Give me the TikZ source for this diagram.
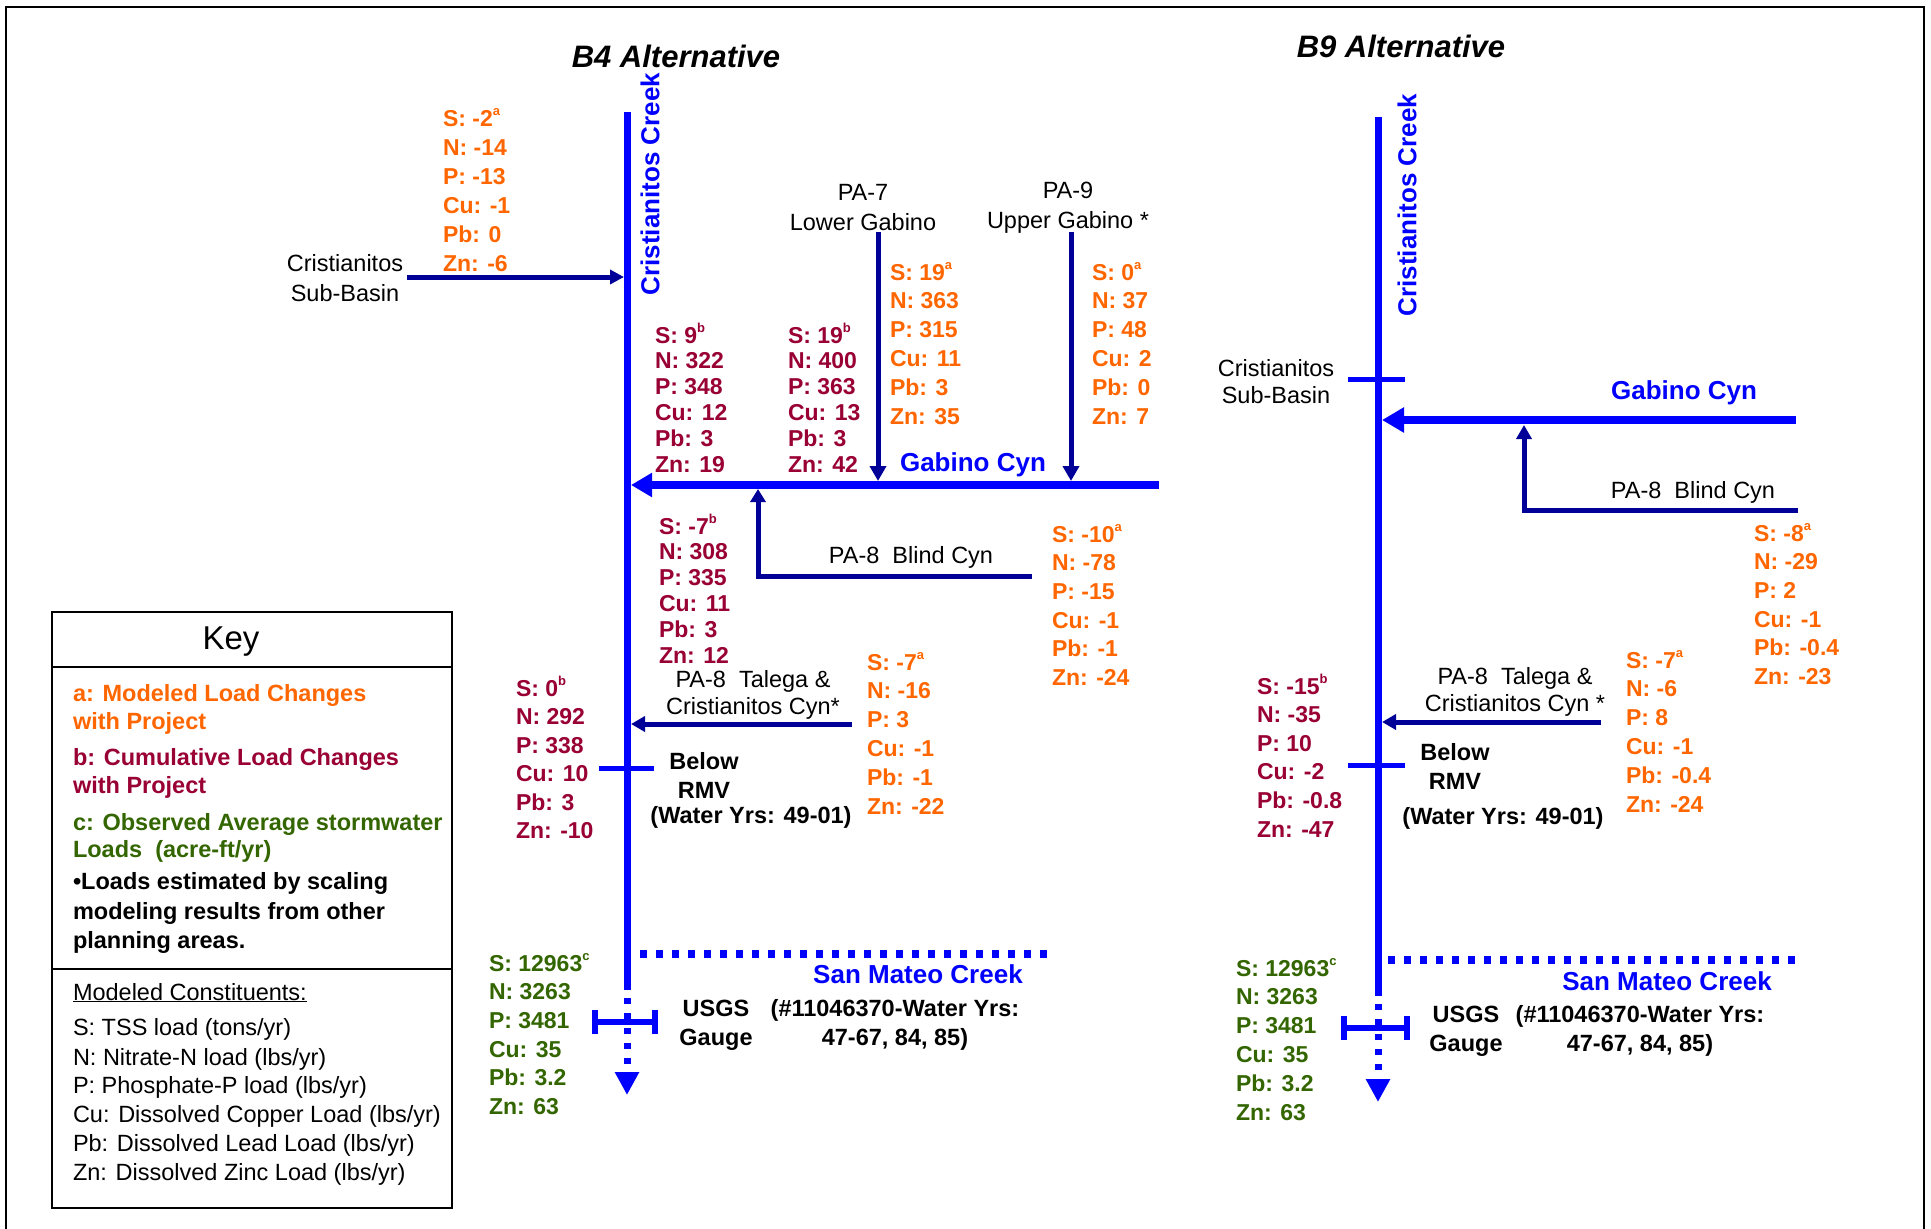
\documentclass[tikz,border=0pt]{standalone}
\usepackage{fontspec}
\setmainfont{Liberation Sans}
\usetikzlibrary{arrows.meta}
\definecolor{cblue}{RGB}{0,0,255}
\definecolor{cnavy}{RGB}{0,0,153}
\definecolor{corange}{RGB}{255,102,0}
\definecolor{cmaroon}{RGB}{153,0,51}
\definecolor{cgreen}{RGB}{51,102,0}
\newcommand\sps[1]{\raisebox{0.45em}{\fontsize{13}{13}\selectfont #1}}
\newcommand\loadlist[6]{%
  \foreach \t [count=\i from 0] in {#6}{%
    \node[val,text=#5] (#1-\i) at ({#2},{#3+8+\i*#4}) {\t};}}
\tikzset{
  every node/.style={inner sep=0pt, outer sep=0pt},
  val/.style={font=\fontsize{23}{23}\selectfont\bfseries, anchor=base west},
  reg/.style={font=\fontsize{23.5}{30}\selectfont, align=center},
  regt/.style={font=\fontsize{23.5}{27}\selectfont, align=center},
  blk/.style={font=\fontsize{23.5}{29}\selectfont\bfseries, align=center},
  keyb/.style={font=\fontsize{23.5}{23.5}\selectfont\bfseries, anchor=base west},
  keyr/.style={font=\fontsize{23.5}{23.5}\selectfont, anchor=base west},
  ttl/.style={font=\fontsize{31}{31}\selectfont\bfseries\itshape},
  creeklbl/.style={font=\fontsize{26}{26}\selectfont\bfseries, text=cblue, rotate=90},
  bluelbl/.style={font=\fontsize{26}{26}\selectfont\bfseries, text=cblue},
  creek/.style={draw=cblue, line width=7pt},
  creekdot/.style={draw=cblue, line width=7pt, dash pattern=on 6pt off 9pt},
  dotline/.style={draw=cblue, line width=8pt, dash pattern=on 7pt off 9pt},
  gabino/.style={draw=cblue, line width=8pt},
  branch/.style={draw=cnavy, line width=5pt},
  crossbar/.style={draw=cblue, line width=5pt},
  gaugebar/.style={draw=cblue, line width=6pt},
  keyline/.style={draw=black, line width=2.5pt},
}
\begin{document}
\begin{tikzpicture}[x=1pt,y=-1pt]
\useasboundingbox (0,0) rectangle (1931,1229);
\draw[line width=2pt] (6,7) rectangle (1924,1240);

% titles
\node[ttl] (t4) at (676,56) {B4 Alternative};
\node[ttl] (t9) at (1401,46) {B9 Alternative};

% ================= B4 =================
\coordinate (c4top) at (627,112);
\coordinate (c4sol) at (627,990);
\coordinate (c4dot) at (627,998);
\coordinate (c4end) at (627,1095);
\draw[creek] (c4top) -- (c4sol);
\draw[creekdot,-{Triangle[length=23pt,width=23pt]}] (c4dot) -- (c4end);
\node[creeklbl] (cc4) at (650,184) {Cristianitos Creek};

% sub-basin
\node[reg] (sb4) at (345,278) {Cristianitos\\Sub-Basin};
\coordinate (sb4s) at (407,277);
\coordinate (sb4t) at (624,277);
\draw[branch,-{Triangle[length=14pt,width=14pt]}] (sb4s) -- (sb4t);

% Gabino
\coordinate (g4e) at (1159,485);
\coordinate (g4j) at (631,485);
\draw[gabino,-{Triangle[length=21pt,width=23pt]}] (g4e) -- (g4j);
\node[bluelbl] (gc4) at (973,465) {Gabino Cyn};

% PA-7, PA-9
\node[reg] (pa7) at (863,208) {PA-7\\Lower Gabino};
\coordinate (pa7s) at (878,232);
\coordinate (pa7t) at (878,481);
\draw[branch,-{Triangle[length=15pt,width=16pt]}] (pa7s) -- (pa7t);
\node[reg] (pa9) at (1068,208) {PA-9\\Upper Gabino *};
\coordinate (pa9s) at (1071,232);
\coordinate (pa9t) at (1071,481);
\draw[branch,-{Triangle[length=15pt,width=16pt]}] (pa9s) -- (pa9t);

% Blind Cyn
\coordinate (bl4s) at (1032,576);
\coordinate (bl4c) at (758,576);
\coordinate (bl4t) at (758,489);
\draw[branch,-{Triangle[length=13pt,width=15pt]}] (bl4s) -- (bl4c) -- (bl4t);
\node[reg] (bl4) at (911,557) {PA-8~~Blind Cyn};

% Talega
\coordinate (ta4s) at (852,724);
\coordinate (ta4t) at (631,724);
\draw[branch,-{Triangle[length=14pt,width=15pt]}] (ta4s) -- (ta4t);
\node[regt] (ta4) at (753,695) {PA-8~~Talega \&\\Cristianitos Cyn*};

% Below RMV
\coordinate (r4a) at (599,768);
\coordinate (r4b) at (654,768);
\draw[crossbar] (r4a) -- (r4b);
\node[blk] (rmv4) at (704,775) {Below\\RMV};
\node[blk] (wy4) at (751,817) {(Water Yrs: 49-01)};

% San Mateo
\coordinate (sm4a) at (640,954);
\coordinate (sm4b) at (1047,954);
\draw[dotline] (sm4a) -- (sm4b);
\node[bluelbl] (smc4) at (918,974) {San Mateo Creek};

% Gauge
\coordinate (gg4a) at (595,1022);
\coordinate (gg4b) at (655,1022);
\draw[gaugebar] (gg4a) -- (gg4b);
\draw[gaugebar] ([yshift=-12pt]gg4a) -- ([yshift=12pt]gg4a);
\draw[gaugebar] ([yshift=-12pt]gg4b) -- ([yshift=12pt]gg4b);
\node[blk] (usgs4) at (716,1025) {USGS\\Gauge};
\node[blk] (id4) at (895,1025) {(\#11046370-Water Yrs:\\47-67, 84, 85)};

% values B4
\loadlist{o1}{443}{118}{29}{corange}{S: -2\sps{a}, N: -14, P: -13, Cu: -1, Pb: 0, Zn: -6}
\loadlist{o2}{890}{272}{28.8}{corange}{S: 19\sps{a}, N: 363, P: 315, Cu: 11, Pb: 3, Zn: 35}
\loadlist{o3}{1092}{272}{28.8}{corange}{S: 0\sps{a}, N: 37, P: 48, Cu: 2, Pb: 0, Zn: 7}
\loadlist{m1}{655}{335}{25.9}{cmaroon}{S: 9\sps{b}, N: 322, P: 348, Cu: 12, Pb: 3, Zn: 19}
\loadlist{m2}{788}{335}{25.9}{cmaroon}{S: 19\sps{b}, N: 400, P: 363, Cu: 13, Pb: 3, Zn: 42}
\loadlist{m3}{659}{526}{25.8}{cmaroon}{S: -7\sps{b}, N: 308, P: 335, Cu: 11, Pb: 3, Zn: 12}
\loadlist{o4}{1052}{534}{28.7}{corange}{S: -10\sps{a}, N: -78, P: -15, Cu: -1, Pb: -1, Zn: -24}
\loadlist{o5}{867}{662}{28.9}{corange}{S: -7\sps{a}, N: -16, P: 3, Cu: -1, Pb: -1, Zn: -22}
\loadlist{m4}{516}{688}{28.5}{cmaroon}{S: 0\sps{b}, N: 292, P: 338, Cu: 10, Pb: 3, Zn: -10}
\loadlist{g1}{489}{963}{28.7}{cgreen}{S: 12963\sps{c}, N: 3263, P: 3481, Cu: 35, Pb: 3.2, Zn: 63}

% ================= B9 =================
\coordinate (c9top) at (1378,117);
\coordinate (c9sol) at (1378,996);
\coordinate (c9dot) at (1378,1004);
\coordinate (c9end) at (1378,1102);
\draw[creek] (c9top) -- (c9sol);
\draw[creekdot,-{Triangle[length=23pt,width=23pt]}] (c9dot) -- (c9end);
\node[creeklbl] (cc9) at (1407,205) {Cristianitos Creek};

% sub-basin bar
\coordinate (sb9a) at (1348,379);
\coordinate (sb9b) at (1405,379);
\draw[crossbar] (sb9a) -- (sb9b);
\node[regt] (sb9) at (1276,382) {Cristianitos\\Sub-Basin};

% Gabino
\coordinate (g9e) at (1796,420);
\coordinate (g9j) at (1382,420);
\draw[gabino,-{Triangle[length=22pt,width=24pt]}] (g9e) -- (g9j);
\node[bluelbl] (gc9) at (1684,393) {Gabino Cyn};

% Blind
\coordinate (bl9s) at (1798,510);
\coordinate (bl9c) at (1524,510);
\coordinate (bl9t) at (1524,425);
\draw[branch,-{Triangle[length=14pt,width=15pt]}] (bl9s) -- (bl9c) -- (bl9t);
\node[reg] (bl9) at (1693,492) {PA-8~~Blind Cyn};

% Talega
\coordinate (ta9s) at (1601,722);
\coordinate (ta9t) at (1382,722);
\draw[branch,-{Triangle[length=14pt,width=15pt]}] (ta9s) -- (ta9t);
\node[regt] (ta9) at (1515,692) {PA-8~~Talega \&\\Cristianitos Cyn *};

% Below RMV
\coordinate (r9a) at (1348,765);
\coordinate (r9b) at (1405,765);
\draw[crossbar] (r9a) -- (r9b);
\node[blk] (rmv9) at (1455,766) {Below\\RMV};
\node[blk] (wy9) at (1503,818) {(Water Yrs: 49-01)};

% San Mateo
\coordinate (sm9a) at (1388,960);
\coordinate (sm9b) at (1796,960);
\draw[dotline] (sm9a) -- (sm9b);
\node[bluelbl] (smc9) at (1667,981) {San Mateo Creek};

% Gauge
\coordinate (gg9a) at (1344,1028);
\coordinate (gg9b) at (1407,1028);
\draw[gaugebar] (gg9a) -- (gg9b);
\draw[gaugebar] ([yshift=-12pt]gg9a) -- ([yshift=12pt]gg9a);
\draw[gaugebar] ([yshift=-12pt]gg9b) -- ([yshift=12pt]gg9b);
\node[blk] (usgs9) at (1466,1031) {USGS\\Gauge};
\node[blk] (id9) at (1640,1031) {(\#11046370-Water Yrs:\\47-67, 84, 85)};

% values B9
\loadlist{o6}{1754}{533}{28.7}{corange}{S: -8\sps{a}, N: -29, P: 2, Cu: -1, Pb: -0.4, Zn: -23}
\loadlist{o7}{1626}{660}{28.9}{corange}{S: -7\sps{a}, N: -6, P: 8, Cu: -1, Pb: -0.4, Zn: -24}
\loadlist{m5}{1257}{686}{28.6}{cmaroon}{S: -15\sps{b}, N: -35, P: 10, Cu: -2, Pb: -0.8, Zn: -47}
\loadlist{g2}{1236}{968}{28.8}{cgreen}{S: 12963\sps{c}, N: 3263, P: 3481, Cu: 35, Pb: 3.2, Zn: 63}

% ================= Key =================
\draw[keyline] (52,612) rectangle (452,1208);
\draw[keyline] (52,667) -- (452,667);
\draw[keyline] (52,969) -- (452,969);
\node[font=\fontsize{33}{33}\selectfont] (keyt) at (231,642) {Key};
\node[keyb,text=corange] (k1) at (73,701) {a: Modeled Load Changes};
\node[keyb,text=corange] (k2) at (73,729) {with Project};
\node[keyb,text=cmaroon] (k3) at (73,765) {b: Cumulative Load Changes};
\node[keyb,text=cmaroon] (k4) at (73,793) {with Project};
\node[keyb,text=cgreen] (k5) at (73,830) {c: Observed Average stormwater};
\node[keyb,text=cgreen] (k6) at (73,857) {Loads~~(acre-ft/yr)};
\node[keyb] (k7) at (73,889) {•Loads estimated by scaling};
\node[keyb] (k8) at (73,919) {modeling results from other};
\node[keyb] (k9) at (73,948) {planning areas.};
\node[keyr] (k10) at (73,1000) {\underline{Modeled Constituents:}};
\node[keyr] (k11) at (73,1035) {S: TSS load (tons/yr)};
\node[keyr] (k12) at (73,1065) {N: Nitrate-N load (lbs/yr)};
\node[keyr] (k13) at (73,1093) {P: Phosphate-P load (lbs/yr)};
\node[keyr] (k14) at (73,1122) {Cu: Dissolved Copper Load (lbs/yr)};
\node[keyr] (k15) at (73,1151) {Pb: Dissolved Lead Load (lbs/yr)};
\node[keyr] (k16) at (73,1180) {Zn: Dissolved Zinc Load (lbs/yr)};
\end{tikzpicture}
\end{document}
